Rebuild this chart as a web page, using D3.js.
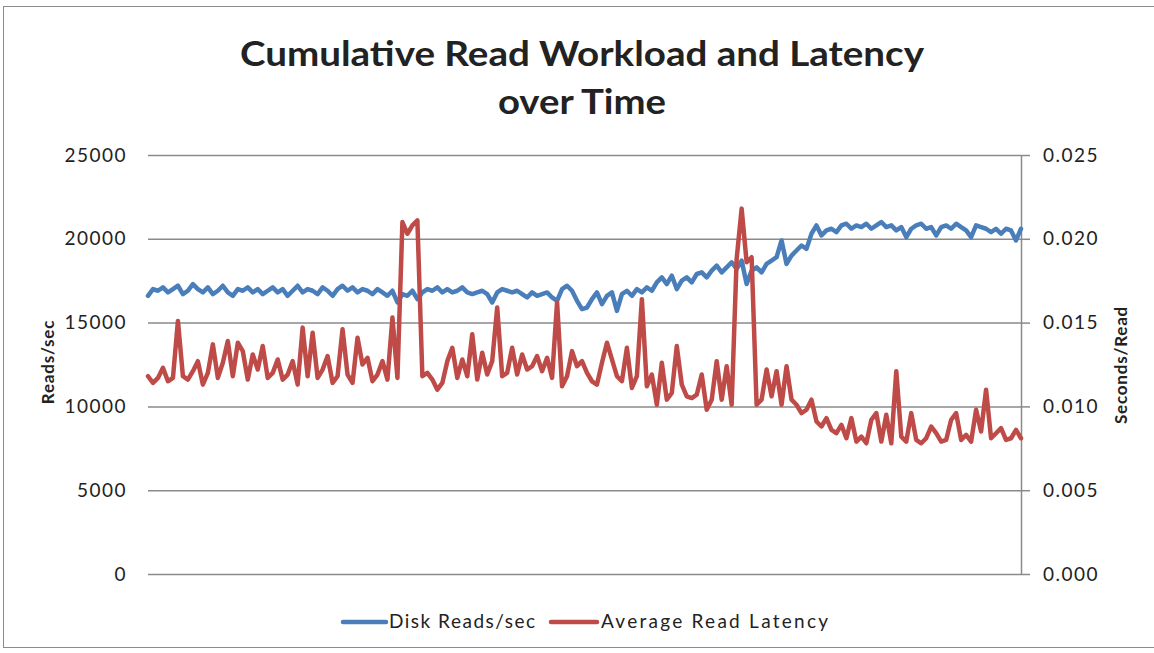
<!DOCTYPE html>
<html>
<head>
<meta charset="utf-8">
<script src="https://cdn.jsdelivr.net/npm/d3@7"></script>
<style>
  body { margin: 0; background: #fff; }
  text { font-family: Lato, "Open Sans", sans-serif; fill: #222; }
</style>
</head>
<body>
<svg id="chart" width="1154" height="653"></svg>
<script>
// Disk Reads/sec, one sample per step
const diskReads = [
  16600, 17000, 16900, 17100, 16800, 17000, 17200, 16700, 16900, 17300,
  17000, 16800, 17100, 16700, 16900, 17200, 16800, 16600, 17000, 16900,
  17100, 16800, 17000, 16700, 16900, 17100, 16800, 17000, 16600, 16900,
  17200, 16800, 17000, 16900, 16700, 17100, 16900, 16600, 17000, 17200,
  16900, 17100, 16800, 17000, 16900, 16700, 17000, 16800, 16600, 16900,
  16200, 16700, 16600, 16900, 16400, 16800, 17000, 16900, 17100, 16800,
  17000, 16800, 16900, 17100, 16800, 16700, 16800, 16900, 16700, 16200,
  16800, 17000, 16900, 16800, 16900, 16700, 16500, 16800, 16600, 16700,
  16800, 16500, 16300, 17000, 17200, 16900, 16300, 15800, 15900, 16400,
  16800, 16100, 16600, 16800, 15700, 16700, 16900, 16600, 17000, 16800,
  17100, 16900, 17400, 17700, 17300, 17800, 17000, 17500, 17700, 17400,
  17900, 18000, 17700, 18100, 18400, 18000, 18300, 18600, 18200, 18700,
  17300, 18100, 18300, 18000, 18500, 18700, 18900, 19900, 18500, 19000,
  19300, 19600, 19400, 20300, 20800, 20200, 20500, 20600, 20400, 20800,
  20900, 20600, 20800, 20700, 20900, 20600, 20800, 21000, 20700, 20800,
  20500, 20700, 20100, 20600, 20800, 20900, 20600, 20700, 20200, 20700,
  20800, 20600, 20900, 20700, 20500, 20100, 20800, 20700, 20600, 20400,
  20600, 20300, 20600, 20500, 19900, 20600
];

// Average Read Latency (seconds/read)
const readLatency = [
  0.0118, 0.0114, 0.0117, 0.0123, 0.0115, 0.0117, 0.0151, 0.0118, 0.0116, 0.0121,
  0.0127, 0.0113, 0.0120, 0.0137, 0.0117, 0.0126, 0.0139, 0.0118, 0.0138, 0.0133,
  0.0116, 0.0131, 0.0122, 0.0136, 0.0117, 0.0120, 0.0128, 0.0116, 0.0119, 0.0127,
  0.0113, 0.0147, 0.0118, 0.0144, 0.0117, 0.0122, 0.0130, 0.0114, 0.0118, 0.0146,
  0.0119, 0.0114, 0.0141, 0.0125, 0.0129, 0.0115, 0.0119, 0.0127, 0.0116, 0.0153,
  0.0117, 0.0210, 0.0203, 0.0208, 0.0211, 0.0118, 0.0120, 0.0116, 0.0110, 0.0114,
  0.0127, 0.0135, 0.0117, 0.0128, 0.0118, 0.0143, 0.0116, 0.0132, 0.0119, 0.0127,
  0.0159, 0.0118, 0.0120, 0.0135, 0.0119, 0.0131, 0.0122, 0.0124, 0.0130, 0.0121,
  0.0129, 0.0117, 0.0162, 0.0112, 0.0118, 0.0133, 0.0124, 0.0127, 0.0120, 0.0115,
  0.0113, 0.0126, 0.0138, 0.0128, 0.0118, 0.0115, 0.0135, 0.0111, 0.0118, 0.0164,
  0.0112, 0.0119, 0.0101, 0.0126, 0.0104, 0.0108, 0.0136, 0.0113, 0.0106, 0.0105,
  0.0107, 0.0119, 0.0098, 0.0104, 0.0127, 0.0104, 0.0124, 0.0101, 0.0188, 0.0218,
  0.0186, 0.0189, 0.0101, 0.0104, 0.0122, 0.0106, 0.0121, 0.0101, 0.0124, 0.0104,
  0.0101, 0.0096, 0.0098, 0.0104, 0.0091, 0.0088, 0.0093, 0.0086, 0.0084, 0.0089,
  0.0081, 0.0093, 0.0079, 0.0082, 0.0078, 0.0092, 0.0096, 0.0079, 0.0095, 0.0078,
  0.0121, 0.0082, 0.0079, 0.0096, 0.0080, 0.0078, 0.0081, 0.0088, 0.0084, 0.0079,
  0.0080, 0.0092, 0.0096, 0.0080, 0.0083, 0.0079, 0.0098, 0.0085, 0.0110, 0.0081,
  0.0084, 0.0087, 0.0080, 0.0081, 0.0086, 0.0081
];

const leftTicks = [0, 5000, 10000, 15000, 20000, 25000];
const rightTicks = [0, 0.005, 0.010, 0.015, 0.020, 0.025];
const seriesNames = ['Disk Reads/sec', 'Average Read Latency'];
const seriesColors = ['#4a7ebb', '#be4b48'];

const svg = d3.select('#chart');
const plot = { left: 148, right: 1021, top: 155, bottom: 574 };

// outer chart border
svg.append('rect')
  .attr('x', 3.5).attr('y', 6.5)
  .attr('width', 1160).attr('height', 641)
  .attr('fill', 'none').attr('stroke', '#8c8c8c').attr('stroke-width', 1);

const x = d3.scaleLinear().domain([0, diskReads.length - 1]).range([plot.left, plot.right]);
const yL = d3.scaleLinear().domain([0, 25000]).range([plot.bottom, plot.top]);
const yR = d3.scaleLinear().domain([0, 0.025]).range([plot.bottom, plot.top]);

// gridlines + left labels
const gl = svg.append('g').attr('transform', `translate(${plot.left},0)`)
  .call(d3.axisLeft(yL).tickValues(leftTicks).tickFormat(d3.format('d'))
    .tickSize(-(plot.right - plot.left)).tickPadding(21));
gl.select('.domain').remove();
gl.selectAll('.tick line').attr('stroke', '#8a8a8a').attr('stroke-width', 1.5);
gl.selectAll('.tick text').attr('font-size', 19).attr('fill', '#222')
  .attr('letter-spacing', 1.5)
  .style('font-family', 'Lato, sans-serif');

// right axis
const gr = svg.append('g').attr('transform', `translate(${plot.right},0)`)
  .call(d3.axisRight(yR).tickValues(rightTicks).tickFormat(d3.format('.3f'))
    .tickSize(9).tickSizeOuter(0).tickPadding(13));
gr.select('.domain').attr('stroke', '#8a8a8a').attr('stroke-width', 1.5);
gr.selectAll('.tick line').attr('stroke', '#8a8a8a').attr('stroke-width', 1.5);
gr.selectAll('.tick text').attr('font-size', 19).attr('fill', '#222')
  .attr('letter-spacing', 1.5)
  .style('font-family', 'Lato, sans-serif');

// series
const lineL = d3.line().x((d, i) => x(i)).y(d => yL(d));
const lineR = d3.line().x((d, i) => x(i)).y(d => yR(d));

svg.append('path').datum(diskReads)
  .attr('d', lineL).attr('fill', 'none')
  .attr('stroke', seriesColors[0]).attr('stroke-width', 4.5)
  .attr('stroke-linejoin', 'round').attr('stroke-linecap', 'round');

svg.append('path').datum(readLatency)
  .attr('d', lineR).attr('fill', 'none')
  .attr('stroke', seriesColors[1]).attr('stroke-width', 4.5)
  .attr('stroke-linejoin', 'round').attr('stroke-linecap', 'round');

// title
const title = svg.append('text').attr('text-anchor', 'middle')
  .attr('font-weight', 'bold').attr('font-size', 34);
title.append('tspan').attr('x', 582).attr('y', 66)
  .attr('textLength', 684).attr('lengthAdjust', 'spacingAndGlyphs')
  .text('Cumulative Read Workload and Latency');
title.append('tspan').attr('x', 582).attr('y', 114)
  .attr('textLength', 168).attr('lengthAdjust', 'spacingAndGlyphs')
  .text('over Time');

// axis titles
svg.append('text')
  .attr('transform', 'translate(54,362) rotate(-90)')
  .attr('text-anchor', 'middle').attr('font-weight', 'bold').attr('font-size', 17)
  .attr('letter-spacing', 0.8)
  .text('Reads/sec');
svg.append('text')
  .attr('transform', 'translate(1127,365) rotate(-90)')
  .attr('text-anchor', 'middle').attr('font-weight', 'bold').attr('font-size', 17)
  .attr('letter-spacing', 0.8)
  .text('Seconds/Read');

// legend
const legendItems = [
  { x1: 343, x2: 386, tx: 389, w: 146 },
  { x1: 551, x2: 597, tx: 601, w: 227 }
];
legendItems.forEach((it, i) => {
  svg.append('line')
    .attr('x1', it.x1).attr('x2', it.x2).attr('y1', 622).attr('y2', 622)
    .attr('stroke', seriesColors[i]).attr('stroke-width', 4.5).attr('stroke-linecap', 'round');
  svg.append('text').attr('x', it.tx).attr('y', 628)
    .attr('font-size', 19)
    .attr('textLength', it.w).attr('lengthAdjust', 'spacing')
    .text(seriesNames[i]);
});
</script>
</body>
</html>
